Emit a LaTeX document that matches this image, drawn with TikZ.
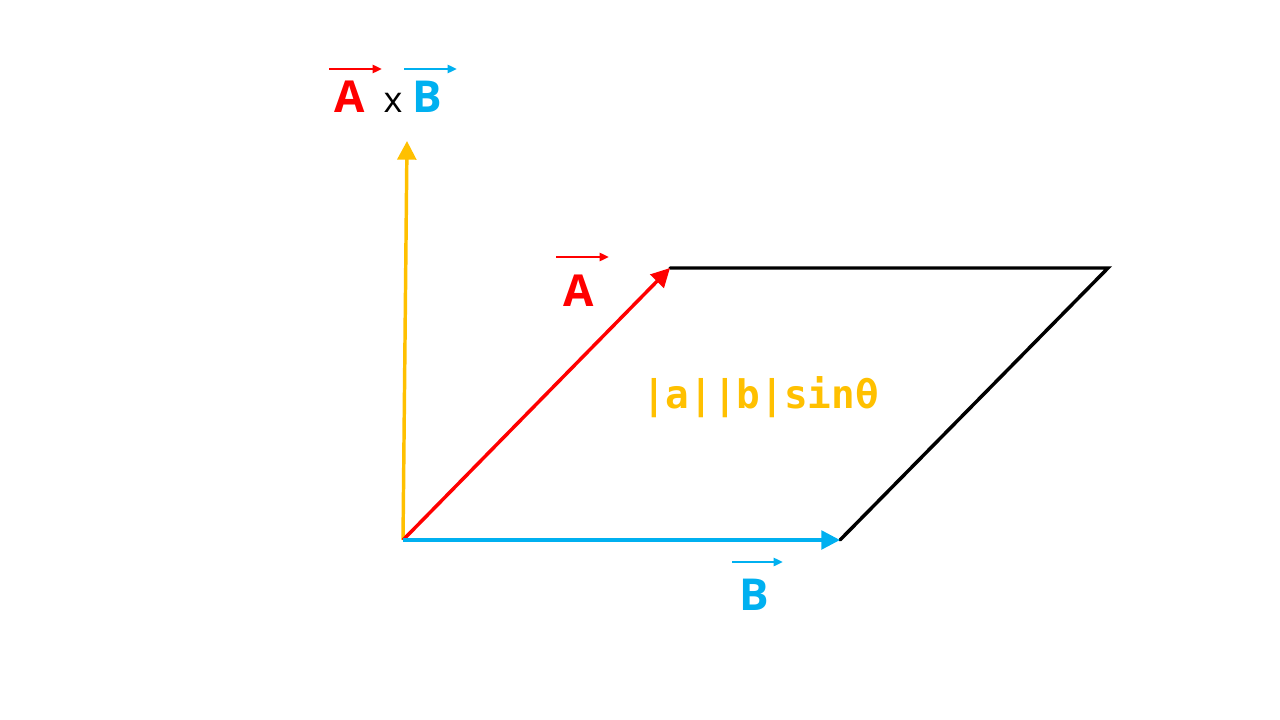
\documentclass[tikz,border=0pt]{standalone}
\usepackage{fontspec}
\setmainfont{Open Sans}
\newfontfamily\monof{DejaVu Sans Mono}
\usetikzlibrary{arrows.meta,calc}
\definecolor{vred}{HTML}{FF0000}
\definecolor{vblue}{HTML}{00B0F0}
\definecolor{vgold}{HTML}{FFC000}
\begin{document}
\begin{tikzpicture}[x=0.75pt,y=-0.75pt,
  vec/.style={line width=2.6pt,-{Triangle[length=14pt,width=14pt]}},
  tag/.style={line width=2pt,-{Triangle[length=7pt,width=6pt]}},
  lbl/.style={inner sep=0pt,anchor=base,font=\fontsize{33}{36}\selectfont\bfseries},
  edge/.style={line width=2.6pt,black,line cap=round}]
\useasboundingbox (0,0) rectangle (1280,720);
\coordinate (O) at (403,540);
\coordinate (Ctop) at (407,141);
\coordinate (Atip) at (670,268);
\coordinate (TR) at (1108,268);
\coordinate (Btip) at (840,540);
% parallelogram edges
\draw[edge] (Atip) -- (TR) -- (Btip);
% vectors
\draw[vec,vgold] (O) -- (Ctop);
\draw[vec,vred] (O) -- (Atip);
\draw[vec,vblue] (O) -- (Btip);
% labels
\node[lbl,text=vred] (lA) at (578.5,306) {A};
\draw[tag,vred] ($(lA.base)+(-22.5,-49)$) coordinate (lAs) -- ($(lA.base)+(30.5,-49)$) coordinate (lAe);
\node[lbl,text=vblue] (lB) at (754.5,610) {B};
\draw[tag,vblue] ($(lB.base)+(-22.5,-48)$) coordinate (lBs) -- ($(lB.base)+(28.5,-48)$) coordinate (lBe);
\node[lbl,text=vred] (tA) at (350,113) {A};
\node[inner sep=0pt,anchor=base,font=\fontsize{27}{30}\selectfont] (tx) at (393,113) {x};
\node[lbl,text=vblue] (tB) at (427,113) {B};
\draw[tag,vred] ($(tA.base)+(-21,-44)$) coordinate (tAs) -- ($(tA.base)+(32,-44)$) coordinate (tAe);
\draw[tag,vblue] ($(tB.base)+(-23,-44)$) coordinate (tBs) -- ($(tB.base)+(30,-44)$) coordinate (tBe);
% area formula
\node[inner sep=0pt,anchor=base,text=vgold,font=\monof\fontsize{29.5}{32}\selectfont\bfseries] (area) at (760.5,408) {|a||b|sinθ};
\end{tikzpicture}
\end{document}
